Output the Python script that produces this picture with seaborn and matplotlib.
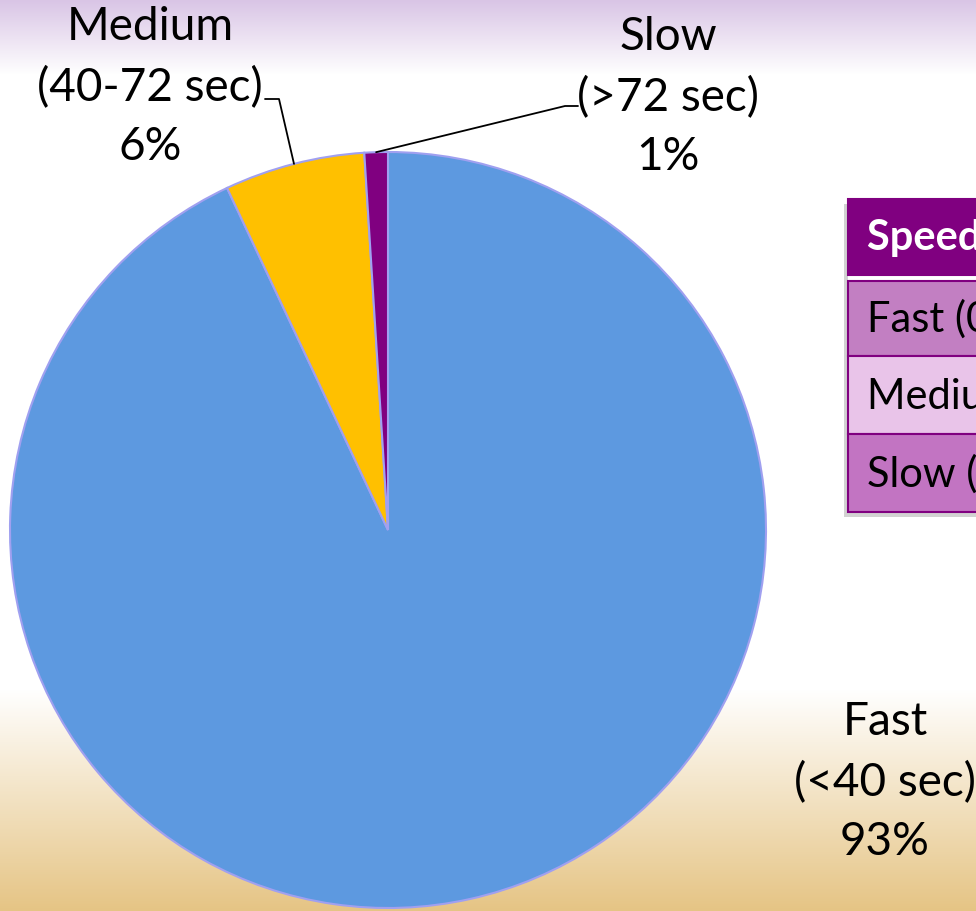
import numpy as np
import matplotlib
matplotlib.use("Agg")
import matplotlib.pyplot as plt
import seaborn as sns
from matplotlib.patches import Rectangle

# Response-time buckets and their share of requests
categories = ["Fast", "Medium", "Slow"]
ranges = ["(<40 sec)", "(40-72 sec)", "(>72 sec)"]
shares = [93, 6, 1]
slice_colors = ["#5D99E0", "#FFC000", "#800080"]

# Legend table
table_header = "Speed Category"
table_rows = ["Fast (0-40 sec)", "Medium (40-72 sec)", "Slow (>72 sec)"]
row_colors = ["#C27FC2", "#E9C4E9", "#C274C2"]

sns.set_theme(style="white")
plt.rcParams["font.family"] = ["Lato", "DejaVu Sans"]

W, H = 976, 912
fig = plt.figure(figsize=(W / 100, H / 100), dpi=100)

# Slide-style background: lavender at the top, white middle, sand at the bottom
bg = fig.add_axes([0, 0, 1, 1], zorder=0)
rows = np.arange(H)
stops = [0, 75, 690, H - 1]
r = np.interp(rows, stops, [0.85, 1.0, 1.0, 0.90])
g = np.interp(rows, stops, [0.77, 1.0, 1.0, 0.77])
b = np.interp(rows, stops, [0.90, 1.0, 1.0, 0.52])
grad = np.stack([r, g, b], axis=-1)[:, None, :]
bg.imshow(grad, aspect="auto", extent=[0, W, 0, H], origin="upper")
bg.set_xlim(0, W)
bg.set_ylim(0, H)
bg.axis("off")

# Main drawing axes in pixel units (y up)
ax = fig.add_axes([0, 0, 1, 1], zorder=1)
ax.patch.set_alpha(0)

cx, cy, rad = 388, H - 531, 378
wedges, _ = ax.pie(
    shares,
    colors=slice_colors,
    startangle=90,
    counterclock=False,
    center=(cx, cy),
    radius=rad,
    wedgeprops=dict(edgecolor="#A0A0F0", linewidth=1.5),
)
ax.set_xlim(0, W)
ax.set_ylim(0, H)
ax.set_aspect("equal")
ax.axis("off")

label_pos = {"Fast": (885, H - 782), "Medium": (150, H - 87), "Slow": (668, H - 97)}
for cat, rng, pct in zip(categories, ranges, shares):
    x, y = label_pos[cat]
    ax.text(x, y, f"{cat}\n{rng}\n{pct}%", ha="center", va="center",
            fontsize=33, linespacing=1.5, color="black")


def edge_point(w):
    th = np.deg2rad((w.theta1 + w.theta2) / 2)
    return cx + rad * np.cos(th), cy + rad * np.sin(th)


# Leader lines for the two small slices
mx, my = edge_point(wedges[1])
ax.plot([265, 279, mx], [H - 100, H - 100, my], color="black", lw=1.3, zorder=5)
sx, sy = edge_point(wedges[2])
ax.plot([578, 565, sx], [H - 107, H - 107, sy], color="black", lw=1.3, zorder=5)

# Legend table on the right
tx0, tx1 = 848, 1300
header_top, header_bot = 200, 276
row_edges = [282, 357, 435, 513]
ax.add_patch(Rectangle((tx0 - 4, H - row_edges[-1] - 5), tx1 - tx0,
                       row_edges[-1] - header_top, facecolor="#808080",
                       alpha=0.35, edgecolor="none", zorder=3, clip_on=False))
ax.add_patch(Rectangle((tx0, H - row_edges[-1]), tx1 - tx0,
                       row_edges[-1] - header_top, facecolor="white",
                       edgecolor="none", zorder=4, clip_on=False))
ax.add_patch(Rectangle((tx0, H - header_bot), tx1 - tx0, header_bot - header_top,
                       facecolor="#800080", edgecolor="#800080", lw=1.5,
                       zorder=5, clip_on=False))
ax.text(867, H - (header_top + header_bot) / 2, table_header, ha="left",
        va="center", fontsize=30, fontweight="bold", color="white", zorder=6)
for i, (label, col) in enumerate(zip(table_rows, row_colors)):
    top, bot = row_edges[i], row_edges[i + 1]
    ax.add_patch(Rectangle((tx0, H - bot), tx1 - tx0, bot - top, facecolor=col,
                           edgecolor="#800080", lw=1.5, zorder=5, clip_on=False))
    ax.text(867, H - (top + bot) / 2, label, ha="left", va="center",
            fontsize=30, color="black", zorder=6)

fig.savefig("out.png", dpi=100)
